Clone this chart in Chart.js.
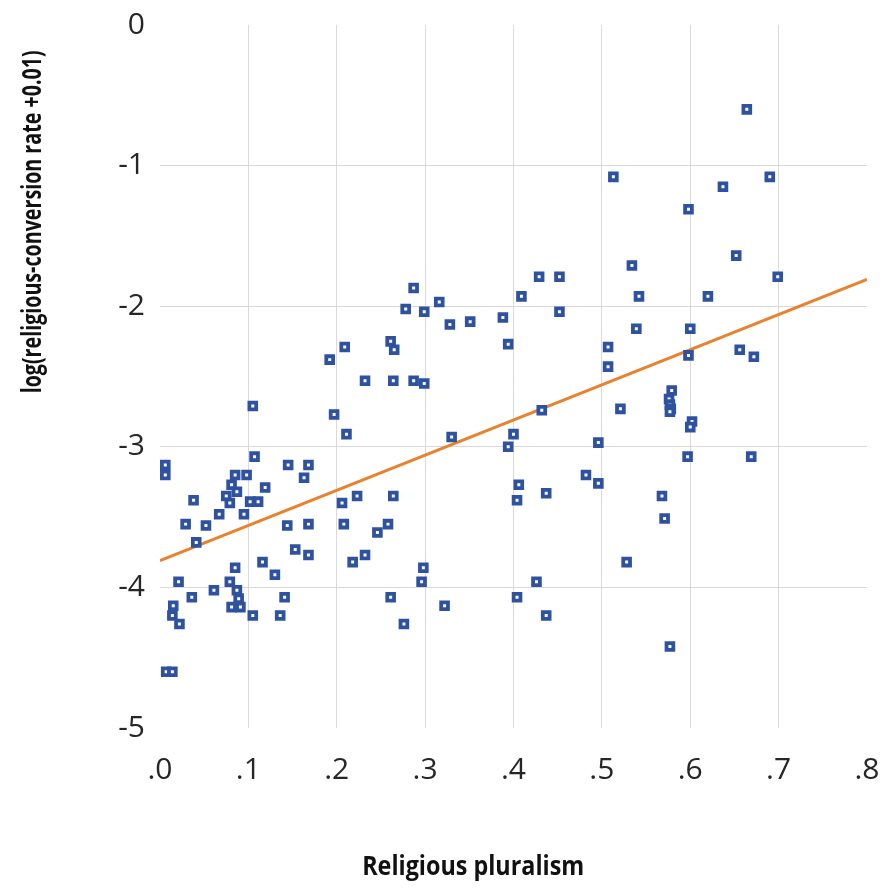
<!DOCTYPE html>
<html><head><meta charset="utf-8">
<script src="https://cdn.jsdelivr.net/npm/chart.js@4"></script>
<style>html,body{margin:0;padding:0;background:#fff}canvas{display:block}</style>
</head><body>
<canvas id="c" width="890" height="890"></canvas>
<script>
const pluralism = [0.664,0.513,0.690,0.637,0.598,0.652,0.534,0.699,0.429,0.452,0.409,0.542,0.620,0.388,0.452,0.394,0.539,0.600,0.507,0.507,0.656,0.672,0.598,0.432,0.521,0.579,0.576,0.577,0.578,0.577,0.602,0.600,0.400,0.394,0.496,0.597,0.669,0.482,0.496,0.406,0.404,0.437,0.568,0.571,0.528,0.426,0.404,0.437,0.577,
0.287,0.316,0.278,0.299,0.328,0.351,0.209,0.192,0.261,0.265,0.232,0.264,0.287,0.299,0.197,0.211,0.330,0.168,0.163,0.223,0.206,0.264,0.168,0.208,0.258,0.246,0.168,0.232,0.218,0.298,0.296,0.261,0.276,0.322,
0.105,0.006,0.006,0.107,0.145,0.085,0.098,0.081,0.075,0.087,0.079,0.102,0.111,0.119,0.095,0.067,0.038,0.029,0.052,0.041,0.144,0.153,0.085,0.116,0.130,0.021,0.079,0.087,0.089,0.081,0.091,0.061,0.036,0.015,0.014,0.022,0.105,0.136,0.141,0.007,0.014];
const logConversion = [-0.60,-1.08,-1.08,-1.15,-1.31,-1.64,-1.71,-1.79,-1.79,-1.79,-1.93,-1.93,-1.93,-2.08,-2.04,-2.27,-2.16,-2.16,-2.29,-2.43,-2.31,-2.36,-2.35,-2.74,-2.73,-2.60,-2.66,-2.70,-2.73,-2.75,-2.82,-2.86,-2.91,-3.00,-2.97,-3.07,-3.07,-3.20,-3.26,-3.27,-3.38,-3.33,-3.35,-3.51,-3.82,-3.96,-4.07,-4.20,-4.42,
-1.87,-1.97,-2.02,-2.04,-2.13,-2.11,-2.29,-2.38,-2.25,-2.31,-2.53,-2.53,-2.53,-2.55,-2.77,-2.91,-2.93,-3.13,-3.22,-3.35,-3.40,-3.35,-3.55,-3.55,-3.55,-3.61,-3.77,-3.77,-3.82,-3.86,-3.96,-4.07,-4.26,-4.13,
-2.71,-3.13,-3.20,-3.07,-3.13,-3.20,-3.20,-3.27,-3.35,-3.32,-3.40,-3.39,-3.39,-3.29,-3.48,-3.48,-3.38,-3.55,-3.56,-3.68,-3.56,-3.73,-3.86,-3.82,-3.91,-3.96,-3.96,-4.02,-4.08,-4.14,-4.14,-4.02,-4.07,-4.13,-4.20,-4.26,-4.20,-4.20,-4.07,-4.60,-4.60];
const trendX = [0, 0.8];
const trendY = [-3.81, -1.81];
const xTicks = [0, 0.1, 0.2, 0.3, 0.4, 0.5, 0.6, 0.7, 0.8];
const yTicks = [-5, -4, -3, -2, -1, 0];
const xTitle = 'Religious pluralism';
const yTitle = 'log(religious-conversion rate +0.01)';

function fitText(ctx, text, target) {
  const w = ctx.measureText(text).width;
  const sx = Math.min(1, target / w);
  ctx.scale(sx, 1);
  ctx.fillText(text, 0, 0);
}
const axisTitles = {
  id: 'axisTitles',
  afterDraw(chart) {
    const ctx = chart.ctx, a = chart.chartArea;
    ctx.save();
    ctx.fillStyle = '#111';
    ctx.font = 'bold 26px "Open Sans"';
    ctx.textAlign = 'center';
    ctx.textBaseline = 'middle';
    ctx.save();
    ctx.translate(a.left + (a.right - a.left) * 0.443, 868);
    fitText(ctx, xTitle, 222);
    ctx.restore();
    ctx.save();
    ctx.translate(34, a.top + (a.bottom - a.top) * 0.28);
    ctx.rotate(-Math.PI / 2);
    fitText(ctx, yTitle, 343);
    ctx.restore();
    ctx.restore();
  }
};
const gridColor = (c) => (c.index === 0 || c.index === c.chart.scales[c.scale.id].ticks.length - 1) ? 'rgba(0,0,0,0)' : '#d9d9d9';

new Chart(document.getElementById('c'), {
  type: 'scatter',
  data: {
    datasets: [
      {
        label: 'Trend',
        type: 'line',
        data: trendX.map((x, i) => ({ x, y: trendY[i] })),
        borderColor: '#E8822E',
        borderWidth: 3,
        pointRadius: 0,
        showLine: true,
        fill: false,
        order: 2
      },
      {
        label: 'Countries',
        data: pluralism.map((x, i) => ({ x, y: logConversion[i] })),
        pointStyle: 'rect',
        pointRadius: 4.8,
        borderWidth: 3.8,
        borderColor: '#2F52A0',
        backgroundColor: '#ffffff',
        order: 1
      }
    ]
  },
  options: {
    responsive: false,
    animation: false,
    layout: { padding: { top: 25, right: 23, left: 0, bottom: 0 } },
    plugins: { legend: { display: false }, tooltip: { enabled: false } },
    scales: {
      x: {
        type: 'linear', min: 0, max: 0.8,
        afterBuildTicks: (s) => { s.ticks = xTicks.map(v => ({ value: v })); },
        afterFit: (s) => { s.height = 162; s.paddingLeft = 0; s.paddingRight = 0; },
        border: { display: false },
        grid: { color: gridColor, drawTicks: false, lineWidth: 1 },
        ticks: {
          padding: 24,
          color: '#262626',
          font: { family: '"Open Sans"', size: 30 },
          maxRotation: 0,
          callback: (v) => v.toFixed(1).replace(/^0/, '')
        }
      },
      y: {
        type: 'linear', min: -5, max: 0,
        afterBuildTicks: (s) => { s.ticks = yTicks.map(v => ({ value: v })); },
        afterFit: (s) => { s.width = 160; s.paddingTop = 0; s.paddingBottom = 0; },
        border: { display: false },
        grid: { color: gridColor, drawTicks: false, lineWidth: 1 },
        ticks: {
          padding: 15,
          color: '#262626',
          font: { family: '"Open Sans"', size: 30 },
          callback: (v) => String(v)
        }
      }
    }
  },
  plugins: [axisTitles]
});
</script>
</body></html>
